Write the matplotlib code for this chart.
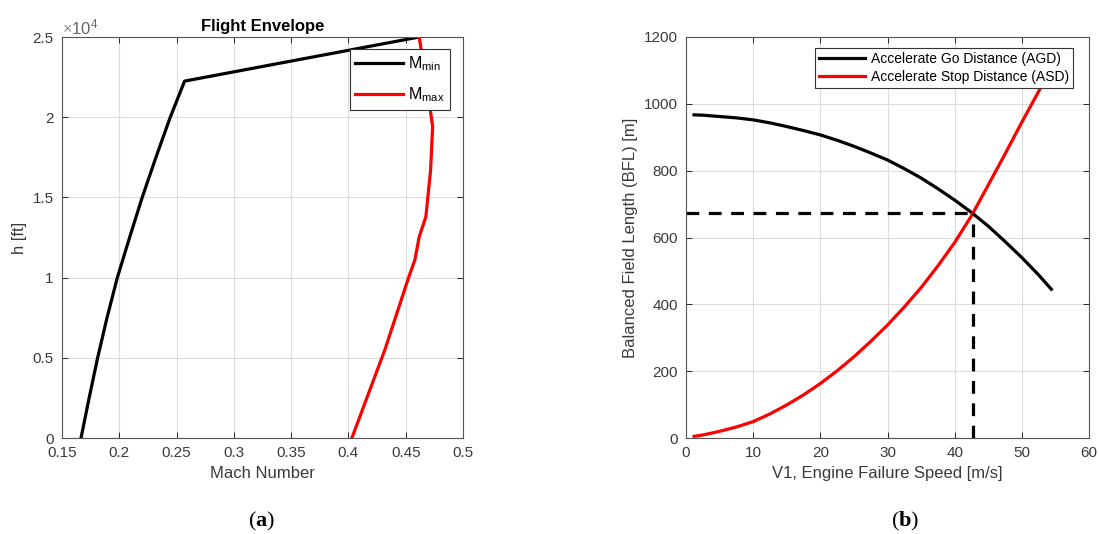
import matplotlib
matplotlib.use("Agg")
import matplotlib.pyplot as plt

plt.rcParams['font.family'] = ['Liberation Sans', 'DejaVu Sans']
plt.rcParams['mathtext.fontset'] = 'custom'
plt.rcParams['mathtext.rm'] = 'Liberation Serif'
plt.rcParams['mathtext.bf'] = 'Liberation Serif:bold'

# (a) flight envelope
h_min = [0, 2500, 5000, 7500, 10000, 12500, 15000, 17500, 20000, 22250, 25000]
mach_min = [0.1666, 0.1737, 0.1811, 0.1893, 0.1983, 0.209, 0.2200, 0.232, 0.2445, 0.2570, 0.4618]

h_max = [0, 5500, 10000, 11100, 12550, 13800, 16700, 19400, 20650, 25000]
mach_max = [0.403, 0.4318, 0.4525, 0.458, 0.4618, 0.4676, 0.4717, 0.4735, 0.4711, 0.4618]

# (b) balanced field length
v1 = [1.2, 2.5, 5, 7.5, 10, 12.5, 15, 17.5, 20, 22.5, 25, 27.5, 30, 32.5, 35,
      37.5, 40, 42.5, 45, 47.5, 50, 52.5, 54.4]
agd = [967, 966, 962, 958, 952, 943, 932, 920, 907, 891, 873, 853, 832, 806, 778,
       746, 712, 675, 634, 588, 540, 488, 445]
asd = [5, 9, 20, 33, 49, 72, 99, 129, 163, 201, 243, 289, 338, 392, 450,
       515, 585, 665, 757, 850, 945, 1037, 1105]
v1_bal = 42.7
bfl = 672

edge = '#262626'
tick_col = '#3a3a3a'


def style(ax):
    ax.grid(True, color='#dcdcdc', linewidth=0.8)
    ax.set_axisbelow(True)
    for s in ax.spines.values():
        s.set_color('#555555')
        s.set_linewidth(0.8)
    ax.tick_params(direction='in', length=4, width=0.7, top=True, right=True,
                   colors=edge, labelcolor=tick_col, labelsize=11, pad=6)


fig = plt.figure(figsize=(10.99, 5.34), dpi=100)

ax1 = fig.add_axes([62 / 1099, 96 / 534, 401 / 1099, 401 / 534])
ax1.plot(mach_min, h_min, color='black', lw=2.3, label=r'M$_\mathregular{min}$')
ax1.plot(mach_max, h_max, color='red', lw=2.3, label=r'M$_\mathregular{max}$')
ax1.set_xlim(0.15, 0.5)
ax1.set_ylim(0, 25000)
ax1.set_xticks([0.15, 0.2, 0.25, 0.3, 0.35, 0.4, 0.45, 0.5])
ax1.set_xticklabels(['0.15', '0.2', '0.25', '0.3', '0.35', '0.4', '0.45', '0.5'])
ax1.set_yticks([0, 5000, 10000, 15000, 20000, 25000])
ax1.set_yticklabels(['0', '0.5', '1', '1.5', '2', '2.5'])
style(ax1)
ax1.text(0, 1.0, r'$\times\mathregular{10^{4}}$', transform=ax1.transAxes,
         fontsize=12, color='#666666', ha='left', va='bottom')
ax1.set_xlabel('Mach Number', fontsize=12, color=tick_col)
ax1.set_ylabel('h [ft]', fontsize=12, color=tick_col)
ax1.set_title('Flight Envelope', fontsize=12, fontweight='bold', pad=4)
leg1 = ax1.legend(loc='upper right', bbox_to_anchor=(0.968, 0.970), fontsize=11.5,
                  handlelength=3.0, fancybox=False, framealpha=1, borderaxespad=0,
                  edgecolor='#333333', borderpad=0.35, labelspacing=0.75,
                  handletextpad=0.3)
leg1.get_frame().set_linewidth(0.8)

ax2 = fig.add_axes([686 / 1099, 96 / 534, 403 / 1099, 401 / 534])
ax2.plot(v1, agd, color='black', lw=2.3, label='Accelerate Go Distance (AGD)')
ax2.plot(v1, asd, color='red', lw=2.3, label='Accelerate Stop Distance (ASD)')
ax2.plot([0, v1_bal], [bfl, bfl], color='black', lw=2.3, ls=(0, (4, 3)))
ax2.plot([v1_bal, v1_bal], [0, bfl], color='black', lw=2.3, ls=(0, (4, 3)))
ax2.set_xlim(0, 60)
ax2.set_ylim(0, 1200)
ax2.set_xticks(range(0, 61, 10))
ax2.set_yticks(range(0, 1201, 200))
style(ax2)
ax2.set_xlabel('V1, Engine Failure Speed [m/s]', fontsize=12, color=tick_col)
ax2.set_ylabel('Balanced Field Length (BFL) [m]', fontsize=12, color=tick_col)
leg2 = ax2.legend(loc='upper right', bbox_to_anchor=(0.960, 0.9726), fontsize=10,
                  handlelength=3.3, fancybox=False, framealpha=1, borderaxespad=0,
                  edgecolor='#333333', borderpad=0.3, labelspacing=0.3,
                  handletextpad=0.4)
leg2.get_frame().set_linewidth(0.8)

fig.text(262 / 1099, 1 - 521 / 534, r'$\mathrm{(}\mathbf{a}\mathrm{)}$', fontsize=16,
         ha='center', va='center')
fig.text(905 / 1099, 1 - 521 / 534, r'$\mathrm{(}\mathbf{b}\mathrm{)}$', fontsize=16,
         ha='center', va='center')

fig.savefig('out.png', dpi=100)
